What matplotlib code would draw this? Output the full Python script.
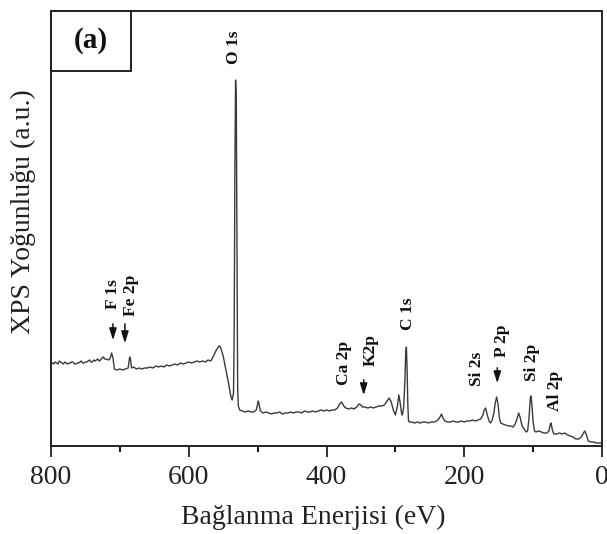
import matplotlib
matplotlib.use("Agg")
import matplotlib.pyplot as plt
from matplotlib.patches import Rectangle
from matplotlib.ticker import MultipleLocator

# Binding energy (eV) and intensity (a.u.)
energy = [800, 798, 796, 794, 792, 790, 788, 786, 784, 782, 780, 778, 776, 774, 772, 770,
          768, 766, 764, 762, 760, 758, 756, 754, 752, 750, 748, 746, 744, 742, 740, 738,
          736, 734, 732, 730, 728, 726, 724, 722, 720, 716, 714, 712, 710, 708, 704, 700,
          696, 692, 688, 686, 685, 683, 680, 676, 672, 668, 664, 660, 656, 652, 648, 644,
          640, 636, 632, 628, 624, 620, 616, 612, 608, 604, 600, 596, 592, 588, 584, 580,
          576, 572, 568, 564, 560, 556, 554, 550, 546, 542, 539, 537, 535, 534, 533, 532,
          531, 530, 529, 528, 526, 522, 518, 514, 510, 506, 502, 500, 499, 498, 496, 492,
          488, 484, 480, 476, 472, 468, 464, 460, 456, 452, 448, 444, 440, 436, 432, 428,
          424, 420, 416, 412, 408, 404, 400, 396, 392, 388, 384, 381, 378, 375, 372, 368,
          364, 360, 356, 353, 350, 348, 344, 340, 336, 332, 328, 324, 320, 316, 312, 309,
          306, 303, 300, 297, 295, 293, 291, 290, 288, 286, 285, 284, 283, 282, 281, 280,
          276, 272, 268, 264, 260, 256, 252, 248, 244, 240, 236, 233, 231, 228, 224, 220,
          216, 212, 208, 204, 200, 196, 192, 188, 184, 180, 176, 173, 171, 169, 167, 164,
          162, 160, 157, 155, 153, 151, 149, 147, 144, 140, 136, 132, 129, 126, 123, 121,
          119, 116, 113, 110, 108, 106, 104, 103, 102, 100, 98, 96, 92, 88, 84, 80,
          77, 75, 74, 72, 70, 66, 62, 58, 54, 50, 46, 42, 38, 34, 30, 27,
          25, 23, 20, 16, 12, 8, 4, 2, 0]
intensity = [86, 85, 84, 86, 85, 84, 87, 86, 85, 84, 86, 85, 84, 85, 85, 86,
             86, 84, 84, 85, 85, 86, 87, 85, 85, 86, 86, 87, 88, 86, 86, 88,
             87, 88, 89, 87, 88, 90, 91, 89, 89, 88, 90, 95, 90, 79, 78, 79,
             78, 79, 80, 90, 91, 80, 81, 79, 80, 79, 80, 80, 81, 80, 82, 81,
             82, 81, 83, 82, 83, 84, 83, 85, 84, 85, 86, 85, 86, 87, 86, 87,
             86, 88, 87, 92, 98, 102, 101, 92, 78, 64, 52, 48, 55, 120, 280, 368,
             350, 200, 60, 42, 38, 37, 36, 37, 36, 36, 38, 44, 47, 44, 37, 35,
             36, 35, 34, 35, 35, 36, 34, 35, 35, 36, 35, 36, 36, 35, 37, 36,
             36, 37, 36, 37, 38, 37, 38, 37, 38, 38, 40, 44, 46, 42, 40, 39,
             40, 39, 41, 44, 43, 41, 41, 40, 41, 40, 41, 42, 42, 43, 47, 50,
             46, 38, 33, 42, 53, 45, 35, 33, 40, 70, 95, 101, 80, 45, 28, 26,
             26, 25, 26, 25, 26, 26, 25, 26, 26, 27, 30, 34, 30, 27, 26, 26,
             27, 26, 26, 27, 26, 27, 27, 28, 27, 28, 29, 33, 38, 40, 34, 27,
             25, 27, 35, 45, 51, 44, 30, 25, 24, 23, 22, 22, 21, 24, 30, 35,
             31, 22, 19, 16, 17, 30, 50, 52, 45, 26, 17, 16, 17, 16, 15, 15,
             17, 24, 25, 18, 14, 14, 15, 14, 15, 13, 12, 11, 9, 9, 11, 15,
             17, 14, 7, 6, 6, 5, 5, 5, 4]

# Peak labels: text, x (eV), y (a.u.)
label_texts = ["O 1s", "F 1s", "Fe 2p", "Ca 2p", "K2p", "C 1s", "Si 2s", "P 2p", "Si 2p", "Al 2p"]
label_x = [534.6, 710, 684, 375, 336, 281, 181, 145, 101, 68]
label_y = [401, 154, 153, 85, 98, 134, 79, 107, 86, 57]

# Arrows: x (eV), start y, end y
arrow_x = [710, 692.7, 346, 152]
arrow_y0 = [127, 127, 71, 83]
arrow_y1 = [105, 102, 50, 62]

xticks = [800, 600, 400, 200, 0]

plt.rcParams['font.family'] = ['Liberation Serif', 'DejaVu Serif']

fig = plt.figure(figsize=(6.07, 5.34), dpi=100)
ax = fig.add_axes([51 / 607, 1 - 446 / 534, (602 - 51) / 607, (446 - 11) / 534])

ax.plot(energy, intensity, color='#3a3a3a', lw=1.0)
ax.set_xlim(800, 0)
ax.set_ylim(2, 437)

ax.set_xticks(xticks)
ax.set_xticklabels([str(t) for t in xticks])
ax.xaxis.set_minor_locator(MultipleLocator(100))
ax.tick_params(axis='x', which='major', direction='out', length=8, width=1.3,
               labelsize=20, pad=6, colors='#222222')
ax.tick_params(axis='x', which='minor', direction='out', length=4, width=1.3)
ax.set_yticks([])
for s in ax.spines.values():
    s.set_linewidth(1.4)
    s.set_color('#222222')

ax.set_xlabel('Bağlanma Enerjisi (eV)', fontsize=20, color='#222222')
ax.xaxis.set_label_coords((313.5 - 51) / 551, -(505 - 446) / 435, transform=ax.transAxes)
ax.set_ylabel('XPS Yoğunluğu (a.u.)', fontsize=20, color='#222222')
ax.yaxis.set_label_coords(-(51 - 36) / 551, (446 - 212) / 435, transform=ax.transAxes)

for t, x, y in zip(label_texts, label_x, label_y):
    ax.text(x, y, t, rotation=90, ha='center', va='center', fontsize=12.5,
            fontweight='bold', color='#111111')

for x, y0, y1 in zip(arrow_x, arrow_y0, arrow_y1):
    ax.annotate('', xy=(x, y1), xytext=(x, y0),
                arrowprops=dict(arrowstyle='-|>,head_length=0.7,head_width=0.22',
                                color='#111111', lw=1.1))

# (a) box
ax.add_patch(Rectangle((0, (446 - 71) / 435), (131 - 51) / 551, (71 - 11) / 435,
                       transform=ax.transAxes, fill=False, edgecolor='#222222', lw=1.4,
                       clip_on=False))
ax.text((91 - 51) / 551, (446 - 41) / 435, '(a)', transform=ax.transAxes,
        ha='center', va='center', fontsize=21, fontweight='bold', color='#111111')

fig.savefig('out.png', dpi=100)
